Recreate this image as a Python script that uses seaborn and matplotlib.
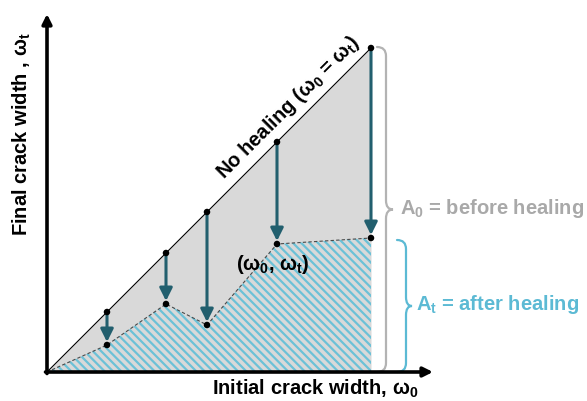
import numpy as np
import matplotlib
matplotlib.use("Agg")
import matplotlib.pyplot as plt
from matplotlib.path import Path
from matplotlib.patches import PathPatch
import seaborn as sns
import pandas as pd

# Initial crack widths and the widths remaining after healing (arbitrary units)
w0 = [60, 119, 160, 230, 324]
wt = [27, 68, 47, 128, 134]

x_label = r"Initial crack width, $\omega_0$"
y_label = r"Final crack width , $\omega_t$"
diag_label = r"No healing ($\omega_0$ = $\omega_t$)"
point_label = r"($\omega_0$, $\omega_t$)"
before_label = r"$A_0$ = before healing"
after_label = r"$A_t$ = after healing"

sns.set_theme(style="white")
plt.rcParams["font.family"] = ["Liberation Sans", "DejaVu Sans"]
plt.rcParams["font.weight"] = "bold"
plt.rcParams["mathtext.fontset"] = "custom"
plt.rcParams["mathtext.rm"] = "Liberation Sans:bold"
plt.rcParams["mathtext.it"] = "Liberation Sans:bold"
plt.rcParams["mathtext.bf"] = "Liberation Sans:bold"
plt.rcParams["hatch.linewidth"] = 1.6

TEAL = "#225f6e"
GRAY_FILL = "#d9d9d9"
HATCH_BLUE = "#6cc1d7"
BRACE_GRAY = "#b3b3b3"
TEXT_GRAY = "#a9a9a9"
TEXT_BLUE = "#5cbad4"

fig = plt.figure(figsize=(5.87, 4.01), dpi=100)
ax = fig.add_axes([0, 0, 1, 1])
ax.set_xlim(-47, 540)
ax.set_ylim(-29, 372)
ax.axis("off")

xmax = w0[-1]
diag = pd.DataFrame({"x": [0] + w0, "y": [0] + w0})
healed = pd.DataFrame({"x": [0] + w0, "y": [0] + wt})

# Area under the no-healing line
ax.fill_between([0, xmax], [0, xmax], 0, color=GRAY_FILL, lw=0, zorder=1)
# Area under the healed curve (hatched)
ax.fill_between(healed["x"], healed["y"], 0, facecolor="none",
                edgecolor=HATCH_BLUE, hatch="\\\\\\\\", lw=0, zorder=2)

sns.lineplot(data=diag, x="x", y="y", color="black", lw=0.8, ax=ax, zorder=3)
sns.lineplot(data=healed, x="x", y="y", color="#4a4a4a", lw=0.8,
             linestyle=(0, (3, 2)), ax=ax, zorder=3)

# Healing arrows from the no-healing line down to the healed width
for a, b in zip(w0, wt):
    ax.annotate("", xy=(a, b + 3), xytext=(a, a),
                arrowprops=dict(arrowstyle="-|>", color=TEAL, lw=2.2,
                                mutation_scale=19, shrinkA=0, shrinkB=0),
                zorder=4)

pts = pd.DataFrame({"x": w0 + w0, "y": w0 + wt})
sns.scatterplot(data=pts, x="x", y="y", color="black", s=22,
                edgecolor="none", ax=ax, zorder=5)

# Axes drawn as arrows
ax.annotate("", xy=(0, 358), xytext=(0, -1.5),
            arrowprops=dict(arrowstyle="-|>", color="black", lw=2.6,
                            mutation_scale=14, shrinkA=0, shrinkB=0), zorder=6)
ax.annotate("", xy=(386, 0), xytext=(-1.5, 0),
            arrowprops=dict(arrowstyle="-|>", color="black", lw=2.6,
                            mutation_scale=14, shrinkA=0, shrinkB=0), zorder=6)


def brace(x, y0, y1, r, tip, color):
    ym = (y0 + y1) / 2
    verts = [(x, y1), (x + r, y1), (x + r, y1 - r),
             (x + r, ym + r), (x + r, ym), (x + r + tip, ym),
             (x + r, ym), (x + r, ym - r),
             (x + r, y0 + r), (x + r, y0), (x, y0)]
    codes = [Path.MOVETO, Path.CURVE3, Path.CURVE3,
             Path.LINETO, Path.CURVE3, Path.CURVE3,
             Path.CURVE3, Path.CURVE3,
             Path.LINETO, Path.CURVE3, Path.CURVE3]
    ax.add_patch(PathPatch(Path(verts, codes), fill=False, edgecolor=color,
                           lw=1.6, capstyle="round", zorder=3))


brace(330, 0, 325, 9, 7, BRACE_GRAY)
brace(350, 0, 132, 9, 6, TEXT_BLUE)

fs = 14.5
ax.text(353, 163, before_label, color=TEXT_GRAY, fontsize=fs,
        fontweight="bold", ha="left", va="center")
ax.text(369, 67, after_label, color=TEXT_BLUE, fontsize=fs,
        fontweight="bold", ha="left", va="center")
ax.text(226, 107, point_label, color="black", fontsize=fs,
        fontweight="bold", ha="center", va="center", zorder=6)
ax.text(241, 265, diag_label, color="black", fontsize=fs, fontweight="bold",
        ha="center", va="center", rotation=45, zorder=6)
ax.text(268, -17, x_label, color="black", fontsize=fs, fontweight="bold",
        ha="center", va="center")
ax.text(-25, 238, y_label, color="black", fontsize=fs, fontweight="bold",
        ha="center", va="center", rotation=90)

fig.savefig("out.png", dpi=100)
